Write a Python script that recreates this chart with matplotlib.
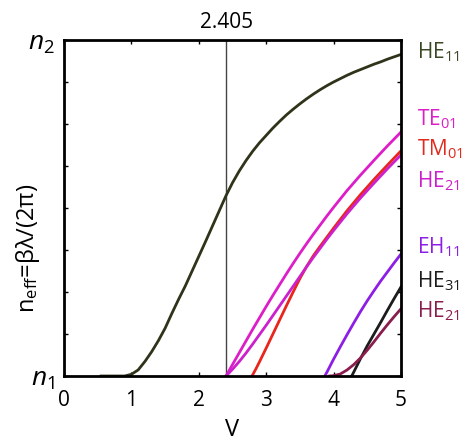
import matplotlib
matplotlib.use("Agg")
import matplotlib.pyplot as plt
from matplotlib.ticker import MultipleLocator

plt.rcParams['font.family'] = ['Open Sans', 'DejaVu Sans']
plt.rcParams['mathtext.fontset'] = 'custom'
plt.rcParams['mathtext.rm'] = 'Open Sans'
plt.rcParams['mathtext.it'] = 'Open Sans:italic'

# normalised effective index (0 = n1, 1 = n2) against V number
v_cutoff = 2.405

v_he11 = [0.55, 0.9, 1.0, 1.1, 1.2, 1.3, 1.4, 1.5, 1.6, 1.7, 1.8, 1.9, 2.0, 2.1, 2.2,
          2.3, 2.4, 2.5, 2.6, 2.7, 2.8, 2.9, 3.0, 3.1, 3.2, 3.3, 3.4, 3.5, 3.6, 3.7,
          3.8, 3.9, 4.0, 4.1, 4.2, 4.3, 4.4, 4.5, 4.6, 4.7, 4.8, 4.9, 5.0]
n_he11 = [0.0, 0.0, 0.005, 0.018, 0.043, 0.072, 0.105, 0.142, 0.186, 0.228, 0.268,
          0.312, 0.356, 0.400, 0.445, 0.490, 0.535, 0.575, 0.610, 0.641, 0.669, 0.694,
          0.716, 0.738, 0.758, 0.777, 0.794, 0.810, 0.825, 0.839, 0.852, 0.864, 0.875,
          0.885, 0.895, 0.904, 0.912, 0.920, 0.928, 0.935, 0.943, 0.950, 0.957]

v_te01 = [2.405, 2.5, 2.6, 2.7, 2.8, 2.9, 3.0, 3.1, 3.2, 3.3, 3.4, 3.5, 3.6, 3.7, 3.8,
          3.9, 4.0, 4.2, 4.4, 4.6, 4.8, 5.0]
n_te01 = [0.0, 0.034, 0.069, 0.104, 0.139, 0.173, 0.207, 0.240, 0.272, 0.304, 0.335,
          0.365, 0.394, 0.422, 0.449, 0.476, 0.502, 0.552, 0.598, 0.642, 0.685, 0.726]

v_tm01 = [2.79, 2.85, 2.9, 3.0, 3.1, 3.2, 3.3, 3.4, 3.5, 3.6, 3.7, 3.8, 3.9, 4.0, 4.2,
          4.4, 4.6, 4.8, 5.0]
n_tm01 = [0.0, 0.022, 0.042, 0.083, 0.125, 0.167, 0.209, 0.250, 0.290, 0.326, 0.358,
          0.386, 0.413, 0.440, 0.492, 0.540, 0.585, 0.628, 0.670]

v_he21 = [2.405, 2.5, 2.6, 2.7, 2.8, 2.9, 3.0, 3.1, 3.2, 3.3, 3.4, 3.5, 3.6, 3.7, 3.8,
          3.9, 4.0, 4.2, 4.4, 4.6, 4.8, 5.0]
n_he21 = [0.0, 0.020, 0.043, 0.068, 0.095, 0.123, 0.151, 0.180, 0.209, 0.238, 0.267,
          0.296, 0.325, 0.353, 0.380, 0.407, 0.433, 0.483, 0.530, 0.574, 0.617, 0.658]

v_eh11 = [3.87, 3.9, 4.0, 4.1, 4.2, 4.3, 4.4, 4.5, 4.6, 4.7, 4.8, 4.9, 5.0]
n_eh11 = [0.0, 0.011, 0.050, 0.087, 0.123, 0.158, 0.192, 0.224, 0.254, 0.283, 0.310,
          0.337, 0.363]

v_he31 = [4.27, 4.3, 4.4, 4.5, 4.6, 4.7, 4.8, 4.9, 5.0]
n_he31 = [0.0, 0.012, 0.052, 0.090, 0.125, 0.160, 0.196, 0.231, 0.265]

v_he12 = [3.94, 4.0, 4.1, 4.2, 4.3, 4.4, 4.5, 4.6, 4.7, 4.8, 4.9, 5.0]
n_he12 = [0.0, 0.001, 0.006, 0.018, 0.034, 0.054, 0.077, 0.102, 0.128, 0.153, 0.177, 0.2]

curves = [
    (v_he11, n_he11, '#2e3419'),
    (v_te01, n_te01, '#dd1ec8'),
    (v_tm01, n_tm01, '#e8261c'),
    (v_he21, n_he21, '#cc20cc'),
    (v_eh11, n_eh11, '#8c1ee6'),
    (v_he31, n_he31, '#1c1c1c'),
    (v_he12, n_he12, '#8a1c4e'),
]

mode_names = ['HE$_{11}$', 'TE$_{01}$', 'TM$_{01}$', 'HE$_{21}$',
              'EH$_{11}$', 'HE$_{31}$', 'HE$_{21}$']
name_y = [0.946, 0.747, 0.658, 0.5625, 0.366, 0.265, 0.173]
name_colors = ['#3a4824', '#dd1ec8', '#e02a1c', '#cc20cc', '#8c1ee6', '#1c1c1c', '#8a1c4e']

fig = plt.figure(figsize=(4.65, 4.42), dpi=100)
ax = fig.add_axes([0.1376, 0.1493, 0.7247, 0.7602])

ax.axvline(v_cutoff, color='#444444', lw=1.0, zorder=1)
for v, n, c in curves:
    ax.plot(v, n, color=c, lw=2.0, zorder=2, solid_joinstyle='round')

for name, y, c in zip(mode_names, name_y, name_colors):
    ax.text(5.24, y, name, color=c, fontsize=15, va='baseline', ha='left')

ax.annotate('2.405', xy=(v_cutoff, 1.0), xycoords=('data', 'axes fraction'),
            xytext=(0, 8.6), textcoords='offset points', ha='center', va='baseline',
            fontsize=15)

ax.set_xlim(0, 5)
ax.set_ylim(0, 1)
ax.set_xticks(range(6))
ax.set_yticks([0, 1])
ax.set_yticklabels([r'$n_{1}$', r'$n_{2}$'], fontsize=19)
ax.yaxis.set_minor_locator(MultipleLocator(0.125))
ax.tick_params(axis='x', labelsize=15, pad=10)
ax.tick_params(axis='both', which='both', direction='in', top=True, right=True,
               length=3, width=1)
ax.tick_params(axis='y', which='major', pad=7)

for s in ax.spines.values():
    s.set_linewidth(2)

ax.set_xlabel('V', fontsize=17)
ax.xaxis.set_label_coords(0.5, -0.125)
ax.set_ylabel(r'n$_{\mathrm{eff}}$=βλ/(2π)', fontsize=17)
ax.yaxis.set_label_coords(-0.065, 0.38)

fig.savefig('out.png', dpi=100)
